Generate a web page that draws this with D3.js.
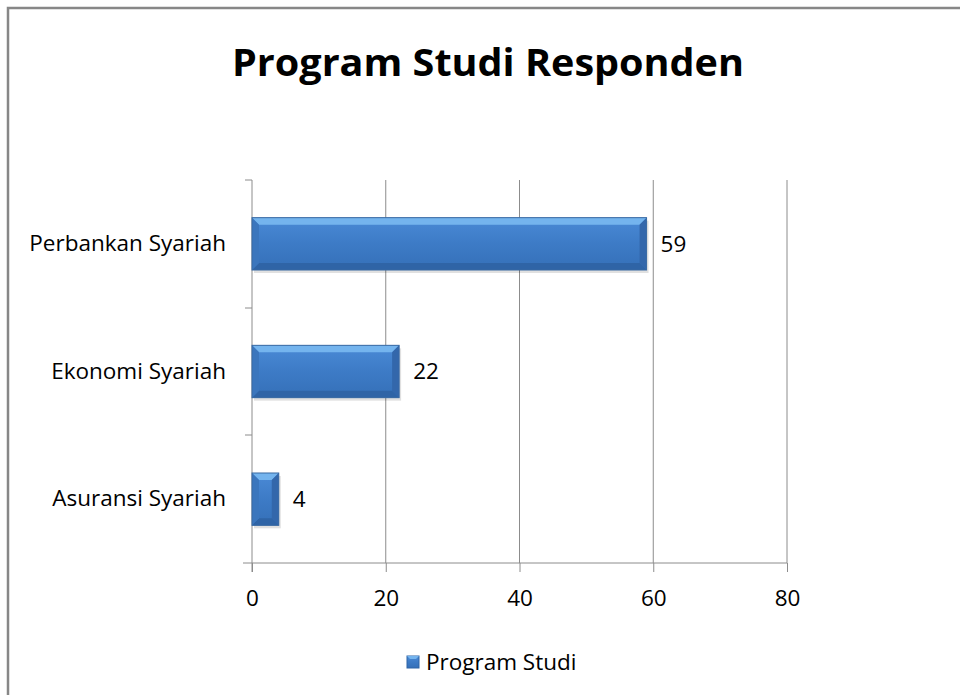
<!DOCTYPE html>
<html><head><meta charset="utf-8">
<script src="https://cdn.jsdelivr.net/npm/d3@7/dist/d3.min.js"></script>
<style>body{margin:0;background:#fff}svg{display:block}</style>
</head><body>
<script>
const categories = ["Perbankan Syariah", "Ekonomi Syariah", "Asuransi Syariah"];
const values = [59, 22, 4];
const xTicks = [0, 20, 40, 60, 80];
const title = "Program Studi Responden";
const seriesName = "Program Studi";

const W = 960, H = 695;
const font = "'Open Sans', 'Noto Sans', sans-serif";
const fs = "22.5px";
const svg = d3.select("body").append("svg").attr("width", W).attr("height", H);

const defs = svg.append("defs");
const g1 = defs.append("linearGradient").attr("id","barg").attr("x1",0).attr("y1",0).attr("x2",0).attr("y2",1);
g1.append("stop").attr("offset","0%").attr("stop-color","#4a8ad6");
g1.append("stop").attr("offset","50%").attr("stop-color","#3d7bc6");
g1.append("stop").attr("offset","100%").attr("stop-color","#3570b8");

// border
svg.append("path").attr("d", `M8,${H} V8 H${W}`).attr("fill","none").attr("stroke","#878787").attr("stroke-width",2.5);

svg.append("text").attr("x", 488).attr("y", 76).attr("text-anchor","middle")
  .style("font-family", font).style("font-weight","bold").style("font-size","38px").attr("fill","#000")
  .attr("textLength", 512).attr("lengthAdjust","spacingAndGlyphs").text(title);

const x = d3.scaleLinear().domain([0, 80]).range([252, 787]);
const y = d3.scaleBand().domain(categories).range([180, 563]).paddingInner(0.59).paddingOuter(0.295);
const band = d3.scaleBand().domain(categories).range([180, 563]);

// gridlines
svg.append("g").selectAll("line").data(xTicks.slice(1)).join("line")
  .attr("x1", d => x(d)).attr("x2", d => x(d)).attr("y1", 180).attr("y2", 563)
  .attr("stroke", "#8c8c8c").attr("stroke-width", 1);

// x axis
const xAxis = svg.append("g").attr("transform","translate(0,563)")
  .call(d3.axisBottom(x).tickValues(xTicks).tickSize(9).tickPadding(18).tickSizeOuter(0));
xAxis.select(".domain").remove();
xAxis.append("line").attr("x1", 243).attr("x2", 787).attr("y1",0).attr("y2",0).attr("stroke","#8c8c8c");
xAxis.selectAll(".tick line").attr("stroke","#8c8c8c");
xAxis.selectAll("text").style("font-family", font).style("font-size", fs).attr("fill","#000");

// y axis
const yAxis = svg.append("g").attr("transform","translate(252,0)")
  .call(d3.axisLeft(band).tickSize(0).tickPadding(26));
yAxis.select(".domain").attr("stroke","#8c8c8c").attr("d","M0,180V572");
yAxis.selectAll("text").style("font-family", font).style("font-size", fs).attr("fill","#000");
svg.append("g").selectAll("line").data([180, 308, 435]).join("line")
  .attr("x1", 245).attr("x2", 252).attr("y1", d => d).attr("y2", d => d).attr("stroke","#8c8c8c");

// bars
const bars = svg.append("g").selectAll("g").data(categories).join("g");
const bev = 7;
bars.each(function(c, i) {
  const gg = d3.select(this);
  const x0 = x(0), x1 = x(values[i]), y0 = y(c), h = y.bandwidth(), y1 = y0 + h;
  const b = Math.min(bev, (x1 - x0) / 2, h / 2);
  gg.append("rect").attr("x", x0 + 2).attr("y", y0 + 3).attr("width", x1 - x0).attr("height", h).attr("fill","#000").attr("opacity",0.12);
  gg.append("rect").attr("x", x0).attr("y", y0).attr("width", x1 - x0).attr("height", h).attr("fill","url(#barg)");
  gg.append("polygon").attr("points", `${x0},${y0} ${x1},${y0} ${x1-b},${y0+b} ${x0+b},${y0+b}`).attr("fill","#74b4ee");
  gg.append("polygon").attr("points", `${x0},${y1} ${x1},${y1} ${x1-b},${y1-b} ${x0+b},${y1-b}`).attr("fill","#2f64a6");
  gg.append("polygon").attr("points", `${x0},${y0} ${x0+b},${y0+b} ${x0+b},${y1-b} ${x0},${y1}`).attr("fill","#3b76bd");
  gg.append("polygon").attr("points", `${x1},${y0} ${x1-b},${y0+b} ${x1-b},${y1-b} ${x1},${y1}`).attr("fill","#3367ab");
  gg.append("rect").attr("x", x0).attr("y", y0).attr("width", x1 - x0).attr("height", h).attr("fill","none").attr("stroke","#3a6aa3").attr("stroke-width",1);
  gg.append("text").attr("x", x1 + 14).attr("y", y0 + h / 2).attr("dy","0.35em")
    .style("font-family", font).style("font-size", fs).attr("fill","#000").text(values[i]);
});

// legend
const lg = svg.append("g").attr("transform","translate(407,656)");
lg.append("rect").attr("width",12).attr("height",12).attr("fill","url(#barg)").attr("stroke","#2f64a6");
lg.append("polygon").attr("points","0,0 12,0 9,3 3,3").attr("fill","#74b4ee");
lg.append("text").attr("x", 19).attr("y", 6).attr("dy","0.35em")
  .style("font-family", font).style("font-size", fs).attr("fill","#000").text(seriesName);
</script>
</body></html>
